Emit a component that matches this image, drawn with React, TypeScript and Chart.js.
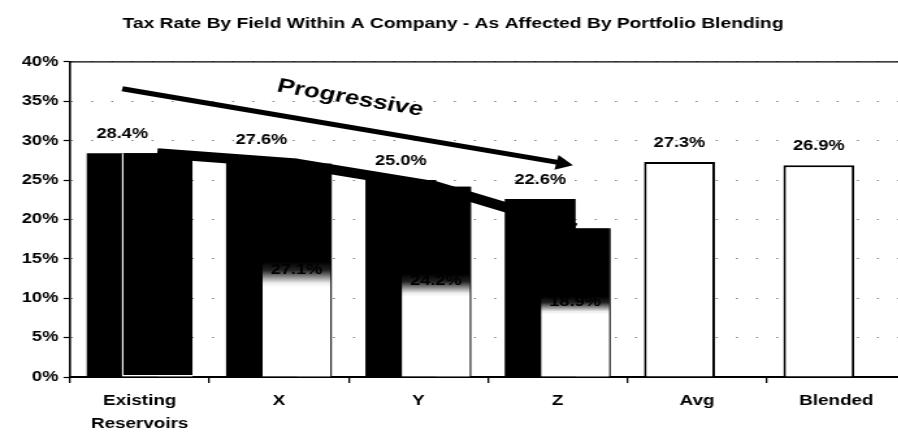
import { useEffect, useRef } from 'react';
import { Chart, registerables } from 'chart.js';

Chart.register(...registerables);

// ---------- data ----------
const CATEGORIES: (string | string[])[] = [['Existing', 'Reservoirs'], 'X', 'Y', 'Z', 'Avg', 'Blended'];
const FIELD_RATE: number[] = [28.4, 27.6, 25.0, 22.6, 27.3, 26.9];
const BLENDED_RATE: (number | null)[] = [28.4, 27.1, 24.2, 18.9, null, null];
const Y_MIN = 0;
const Y_MAX = 40;
const Y_STEP = 5;
const TITLE = 'Tax Rate By Field Within A Company - As Affected By Portfolio Blending';
const ARROW_LABEL = 'Progressive';
// annotation anchor points in data units: [category index, percent]
const ARROW_FROM = [-0.125, 36.6];
const ARROW_TO = [3.11, 26.9];
const ARROW_LABEL_AT = [1.51, 35.4];

// ---------- layout / style ----------
const STRETCH = 1.3; // the scanned original is stretched horizontally
const CANVAS_W = 700;
const CANVAS_H = 435;
const FONT = '"Liberation Sans", Arial, Helvetica, sans-serif';
const IDX_FIELD = 0;
const IDX_BLEND = 1;

const fmt = (v: number) => v.toFixed(1) + '%';

const overlayPlugin = {
  id: 'overlay',
  afterDatasetsDraw(chart: any) {
    const { ctx, scales } = chart;
    const xs = scales.x;
    const ys = scales.y;
    const mField = chart.getDatasetMeta(IDX_FIELD);
    const mBlend = chart.getDatasetMeta(IDX_BLEND);
    ctx.save();

    // blended bars sit in front of the stand-alone bars
    mBlend.data.forEach((el: any, i: number) => {
      if (BLENDED_RATE[i] != null) el.draw(ctx);
    });

    // thick line joining the blended bar tops
    ctx.beginPath();
    let started = false;
    mBlend.data.forEach((el: any, i: number) => {
      if (BLENDED_RATE[i] == null) return;
      if (!started) {
        ctx.moveTo(el.x, el.y);
        started = true;
      } else {
        ctx.lineTo(el.x, el.y);
      }
    });
    ctx.lineWidth = 10;
    ctx.strokeStyle = '#000';
    ctx.lineJoin = 'round';
    ctx.lineCap = 'butt';
    ctx.stroke();

    // value labels
    ctx.fillStyle = '#000';
    ctx.textAlign = 'center';
    ctx.textBaseline = 'middle';
    ctx.font = `bold 14px ${FONT}`;
    mField.data.forEach((el: any, i: number) => {
      ctx.fillText(fmt(FIELD_RATE[i]), el.x, el.y - 19);
    });
    mBlend.data.forEach((el: any, i: number) => {
      const v = BLENDED_RATE[i];
      if (v == null || i === 0) return;
      ctx.fillText(fmt(v), el.x, (el.y + el.base) / 2);
    });

    // "Progressive" arrow
    const ax0 = xs.getPixelForValue(ARROW_FROM[0]);
    const ay0 = ys.getPixelForValue(ARROW_FROM[1]);
    const ax1 = xs.getPixelForValue(ARROW_TO[0]);
    const ay1 = ys.getPixelForValue(ARROW_TO[1]);
    const ang = Math.atan2(ay1 - ay0, ax1 - ax0);
    const headLen = 13;
    const headHalf = 7.5;
    const bx = ax1 - headLen * Math.cos(ang);
    const by = ay1 - headLen * Math.sin(ang);
    ctx.lineWidth = 5;
    ctx.beginPath();
    ctx.moveTo(ax0, ay0);
    ctx.lineTo(bx + 1, by);
    ctx.stroke();
    ctx.beginPath();
    ctx.moveTo(ax1, ay1);
    ctx.lineTo(bx + headHalf * Math.sin(ang), by - headHalf * Math.cos(ang));
    ctx.lineTo(bx - headHalf * Math.sin(ang), by + headHalf * Math.cos(ang));
    ctx.closePath();
    ctx.fill();

    const tx = xs.getPixelForValue(ARROW_LABEL_AT[0]);
    const ty = ys.getPixelForValue(ARROW_LABEL_AT[1]);
    ctx.translate(tx, ty);
    ctx.rotate(ang);
    ctx.font = `bold 20px ${FONT}`;
    ctx.fillText(ARROW_LABEL, 0, 0);

    ctx.restore();
  },
};

const topLinePlugin = {
  id: 'topLine',
  beforeDatasetsDraw(chart: any) {
    const { ctx, chartArea } = chart;
    const y = chart.scales.y.getPixelForValue(Y_MAX);
    ctx.save();
    ctx.strokeStyle = '#000';
    ctx.lineWidth = 1.2;
    ctx.beginPath();
    ctx.moveTo(chartArea.left, y);
    ctx.lineTo(chartArea.right, y);
    ctx.stroke();
    ctx.restore();
  },
};

export default function App() {
  const ref = useRef<HTMLCanvasElement | null>(null);

  useEffect(() => {
    if (!ref.current) return;
    Chart.defaults.font.family = FONT;
    Chart.defaults.color = '#000';

    const barGeom = { categoryPercentage: 0.502, barPercentage: 2.028 };

    const blendFill = (c: any) => {
      const i = c.dataIndex;
      const v = BLENDED_RATE[i];
      if (v == null || i === 0) return '#000';
      const ys = c.chart.scales && c.chart.scales.y;
      if (!ys) return '#000';
      const top = ys.getPixelForValue(v);
      const bot = ys.getPixelForValue(0);
      if (!isFinite(top) || !isFinite(bot) || bot <= top) return '#000';
      const g = c.chart.ctx.createLinearGradient(0, top, 0, bot);
      g.addColorStop(0, '#000');
      g.addColorStop(0.46, '#000');
      g.addColorStop(0.5, '#222');
      g.addColorStop(0.53, '#888');
      g.addColorStop(0.56, '#eee');
      g.addColorStop(0.58, '#fff');
      g.addColorStop(1, '#fff');
      return g;
    };

    const chart = new Chart(ref.current, {
      type: 'bar',
      data: {
        labels: CATEGORIES as any,
        datasets: [
          {
            label: 'Stand-alone',
            data: FIELD_RATE,
            ...barGeom,
            backgroundColor: ['#000', '#000', '#000', '#000', '#fff', '#fff'],
            borderColor: '#000',
            borderWidth: [0, 0, 0, 0, 2, 2],
          } as any,
          {
            label: 'Blended',
            data: BLENDED_RATE,
            ...barGeom,
            backgroundColor: blendFill,
            borderColor: (c: any) => (c.dataIndex === 0 ? '#fff' : '#000'),
            borderWidth: (c: any) =>
              c.dataIndex === 0
                ? { left: 1.5, bottom: 1.5, top: 0, right: 0 }
                : { left: 1.2, right: 1.2, top: 0, bottom: 0 },
            borderSkipped: false,
          } as any,
        ],
      },
      options: {
        animation: false,
        responsive: false,
        devicePixelRatio: 1,
        layout: { padding: { left: 0, right: 3.1, top: 0, bottom: 0 } },
        plugins: {
          legend: { display: false },
          tooltip: { enabled: false },
          title: {
            display: true,
            text: TITLE,
            color: '#000',
            font: { family: FONT, size: 14.8, weight: 'bold', lineHeight: 1.2 },
            padding: { top: 15.5, bottom: 28.7 },
          },
        },
        scales: {
          x: {
            type: 'category',
            offset: true,
            grid: {
              offset: true,
              drawOnChartArea: false,
              drawTicks: true,
              tickLength: 6,
              color: '#000',
              lineWidth: 1.3,
            },
            border: { color: '#000', width: 2 },
            ticks: {
              color: '#000',
              font: { family: FONT, size: 14.5, weight: 'bold', lineHeight: 1.59 },
              padding: 6,
              maxRotation: 0,
              autoSkip: false,
            },
            afterFit: (s: any) => {
              s.height = 58;
            },
          },
          y: {
            min: Y_MIN,
            max: Y_MAX,
            ticks: {
              stepSize: Y_STEP,
              color: '#000',
              font: { family: FONT, size: 14, weight: 'bold' },
              padding: 4,
              callback: (v: any) => v + '%',
            },
            grid: {
              color: 'rgba(0,0,0,0.5)',
              lineWidth: 1,
              tickLength: 5,
              tickColor: '#000',
              tickWidth: 1.2,
            },
            border: { color: '#000', width: 1.6, dash: [1.5, 14] },
            afterFit: (s: any) => {
              s.width = 53.85;
            },
          },
        },
      } as any,
      plugins: [topLinePlugin, overlayPlugin],
    });

    return () => {
      chart.destroy();
    };
  }, []);

  return (
    <div
      style={{
        position: 'absolute',
        left: 0,
        top: 0,
        width: 898,
        height: 435,
        overflow: 'hidden',
        background: '#fff',
      }}
    >
      <canvas
        ref={ref}
        width={CANVAS_W}
        height={CANVAS_H}
        style={{ width: `${CANVAS_W * STRETCH}px`, height: `${CANVAS_H}px`, display: 'block' }}
      />
    </div>
  );
}
